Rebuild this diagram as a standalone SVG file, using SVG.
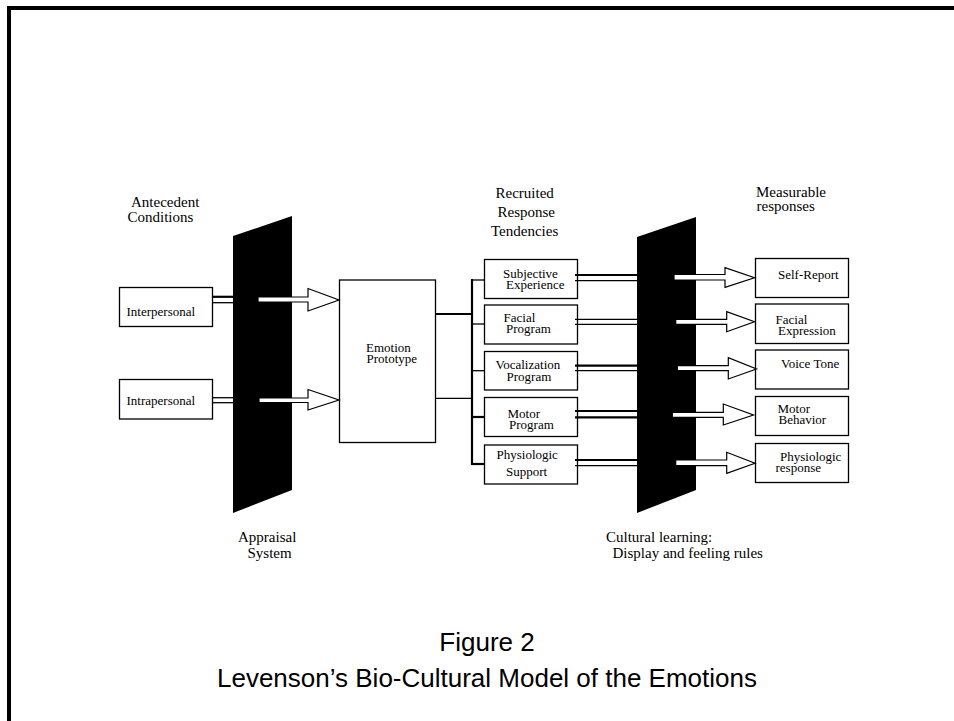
<svg xmlns="http://www.w3.org/2000/svg" width="954" height="721" viewBox="0 0 954 721">
<style>
.t{font-family:"Liberation Serif","Times New Roman",serif;font-size:13px;fill:#000}
.h{font-family:"Liberation Serif","Times New Roman",serif;font-size:15px;fill:#000}
.cap{font-family:"Liberation Sans",Arial,sans-serif;font-size:26px;fill:#000;text-anchor:middle}
.box{fill:#fff;stroke:#000;stroke-width:1.3}
.bar{fill:#000}
.arr{fill:#fff;stroke:#000;stroke-width:1.2;stroke-linejoin:miter}
.l1{stroke:#000;stroke-width:2.2;fill:none}
.l2{stroke:#000;stroke-width:1.3;fill:none}
</style>
<rect width="954" height="721" fill="#fff"/>
<!-- frame -->
<rect x="7" y="6" width="947" height="4" fill="#000"/>
<rect x="7" y="6" width="4" height="715" fill="#000"/>

<!-- headers -->
<g id="hdr-antecedent"><text class="h" x="131" y="206.5">Antecedent</text><text class="h" x="127.5" y="221.5">Conditions</text></g>
<g id="hdr-recruited"><text class="h" x="495.5" y="198">Recruited</text><text class="h" x="497.5" y="217">Response</text><text class="h" x="491" y="235.5">Tendencies</text></g>
<g id="hdr-measurable"><text class="h" x="756" y="197">Measurable</text><text class="h" x="756.5" y="211">responses</text></g>

<!-- appraisal bar -->
<g id="appraisal">
<polygon class="bar" points="233,236 292,216 292,490 233,513"/>
<text class="h" x="238" y="541.5">Appraisal</text><text class="h" x="247.5" y="558">System</text>
</g>
<!-- cultural bar -->
<g id="cultural">
<polygon class="bar" points="637,237 696,217 696,490 637,513"/>
<text class="h" x="606" y="542">Cultural learning:</text><text class="h" x="612.5" y="558">Display and feeling rules</text>
</g>

<!-- left nodes -->
<g id="interpersonal"><rect class="box" x="119.5" y="287.5" width="93" height="39"/><text class="t" x="126.5" y="316">Interpersonal</text></g>
<g id="intrapersonal"><rect class="box" x="119.5" y="379.5" width="93" height="39.5"/><text class="t" x="126.5" y="405">Intrapersonal</text></g>

<g id="emotion-prototype"><rect class="box" x="339.5" y="280" width="96" height="162.5"/><text class="t" x="366" y="351.5">Emotion</text><text class="t" x="366.5" y="362.5">Prototype</text></g>

<!-- recruited response boxes -->
<g id="subjective"><rect class="box" x="484.5" y="259.5" width="93" height="39"/><text class="t" x="503" y="277.5">Subjective</text><text class="t" x="506" y="288.5">Experience</text></g>
<g id="facial-program"><rect class="box" x="484.5" y="305" width="93" height="39"/><text class="t" x="503.5" y="322">Facial</text><text class="t" x="506" y="333">Program</text></g>
<g id="vocalization"><rect class="box" x="484.5" y="351.5" width="93" height="38.5"/><text class="t" x="495.5" y="369">Vocalization</text><text class="t" x="506.5" y="381">Program</text></g>
<g id="motor-program"><rect class="box" x="484.5" y="397.5" width="93" height="39"/><text class="t" x="507.5" y="418">Motor</text><text class="t" x="509" y="428.5">Program</text></g>
<g id="physiologic-support"><rect class="box" x="484.5" y="445" width="93" height="39"/><text class="t" x="496.5" y="458.5">Physiologic</text><text class="t" x="506" y="475.5">Support</text></g>

<!-- measurable boxes -->
<g id="self-report"><rect class="box" x="755.5" y="258.5" width="93" height="39"/><text class="t" x="778" y="279">Self-Report</text></g>
<g id="facial-expression"><rect class="box" x="755.5" y="304" width="93" height="39.5"/><text class="t" x="775.5" y="323.5">Facial</text><text class="t" x="778" y="335">Expression</text></g>
<g id="voice-tone"><rect class="box" x="755.5" y="350" width="93" height="39"/><text class="t" x="781" y="367.5">Voice Tone</text></g>
<g id="motor-behavior"><rect class="box" x="755.5" y="396.5" width="93" height="39"/><text class="t" x="777.5" y="412.5">Motor</text><text class="t" x="778.5" y="423.5">Behavior</text></g>
<g id="physiologic-response"><rect class="box" x="755.5" y="443.5" width="93" height="39"/><text class="t" x="780" y="461">Physiologic</text><text class="t" x="775.5" y="472">response</text></g>

<!-- connectors -->
<g id="connectors">
<line class="l1" x1="212.5" y1="296.8" x2="233" y2="296.8"/>
<line class="l2" x1="212.5" y1="302.7" x2="233" y2="302.7"/>
<line class="l2" x1="212.5" y1="397.7" x2="233" y2="397.7"/>
<line class="l2" x1="212.5" y1="402.7" x2="233" y2="402.7"/>
<polygon class="arr" points="258,297 308,297 308,288.5 339,300 308,311 308,302 258,302"/>
<polygon class="arr" points="259,398 308,398 308,389.5 339,400 308,410 308,402.5 259,402.5"/>

<line class="l1" x1="435.5" y1="314" x2="472" y2="314"/>
<line class="l2" x1="435.5" y1="398.3" x2="472" y2="398.3"/>
<line class="l1" x1="472" y1="279" x2="472" y2="465"/>
<line class="l2" x1="472" y1="280" x2="484.5" y2="280"/>
<line class="l2" x1="472" y1="324" x2="484.5" y2="324"/>
<line class="l2" x1="472" y1="370.7" x2="484.5" y2="370.7"/>
<line class="l1" x1="472" y1="417" x2="484.5" y2="417"/>
<line class="l1" x1="471" y1="464" x2="484.5" y2="464"/>

<line class="l1" x1="575" y1="275" x2="637" y2="275"/>
<line class="l2" x1="575" y1="280.7" x2="637" y2="280.7"/>
<line class="l2" x1="575" y1="319.3" x2="637" y2="319.3"/>
<line class="l2" x1="575" y1="324.3" x2="637" y2="324.3"/>
<line class="l1" x1="575" y1="365.7" x2="637" y2="365.7"/>
<line class="l2" x1="575" y1="370.7" x2="637" y2="370.7"/>
<line class="l1" x1="575" y1="411" x2="637" y2="411"/>
<line class="l1" x1="575" y1="417.3" x2="637" y2="417.3"/>
<line class="l1" x1="575" y1="460" x2="637" y2="460"/>
<line class="l2" x1="575" y1="465.7" x2="637" y2="465.7"/>

<polygon class="arr" points="674,274.5 725,274.5 725,267.7 754.5,277.7 725,287.3 725,280 674,280"/>
<polygon class="arr" points="675.7,319.3 726.7,319.3 726.7,311.7 754.5,321.7 726.7,331.7 726.7,324.3 675.7,324.3"/>
<polygon class="arr" points="677.3,365.7 728.3,365.7 728.3,357.7 756.5,369 728.3,379 728.3,370.7 677.3,370.7"/>
<polygon class="arr" points="672.3,412.3 723.3,412.3 723.3,404 753.5,415 723.3,425 723.3,417.3 672.3,417.3"/>
<polygon class="arr" points="675.7,460 726.7,460 726.7,452.3 755,463.3 726.7,473.3 726.7,465.7 675.7,465.7"/>
</g>

<!-- caption -->
<g id="caption">
<text class="cap" x="487" y="651">Figure 2</text>
<text class="cap" x="487" y="687">Levenson’s Bio-Cultural Model of the Emotions</text>
</g>
</svg>
